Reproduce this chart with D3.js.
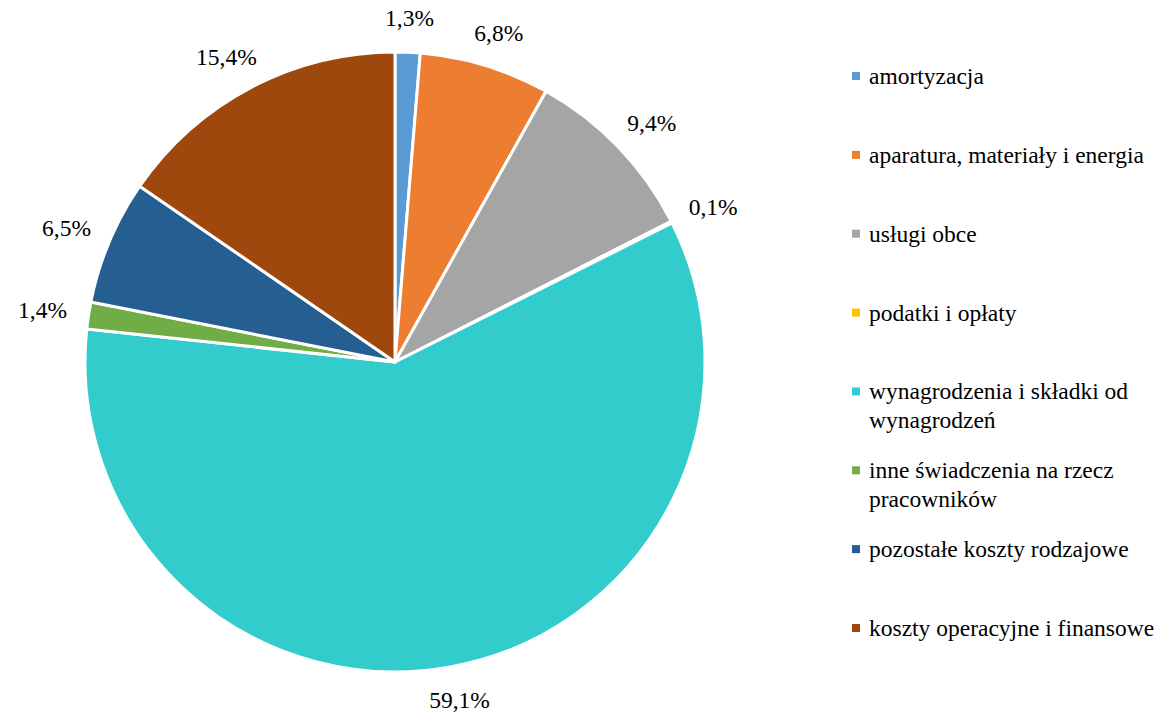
<!DOCTYPE html>
<html>
<head>
<meta charset="utf-8">
<script src="https://cdn.jsdelivr.net/npm/d3@7"></script>
<style>
  body { margin: 0; background: #fff; font-family: "Liberation Serif", serif; }
  svg text { font-family: "Liberation Serif", serif; }
</style>
</head>
<body>
<div id="chart"></div>
<script>
const categories = [
  "amortyzacja",
  "aparatura, materiały i energia",
  "usługi obce",
  "podatki i opłaty",
  "wynagrodzenia i składki od wynagrodzeń",
  "inne świadczenia na rzecz pracowników",
  "pozostałe koszty rodzajowe",
  "koszty operacyjne i finansowe"
];
const values = [1.3, 6.8, 9.4, 0.1, 59.1, 1.4, 6.5, 15.4];
const colors = ["#5B9BD5", "#ED7D31", "#A5A5A5", "#FFC000", "#33CCCC", "#70AD47", "#255E91", "#9E480E"];

const width = 1164, height = 713;
const cx = 395, cy = 362, radius = 310;
const font = "Liberation Serif, serif";

const svg = d3.select("#chart")
  .append("svg")
    .attr("width", width)
    .attr("height", height)
    .style("font-family", font);

const data = categories.map((c, i) => ({ name: c, value: values[i], color: colors[i] }));

const pie = d3.pie().sort(null).value(d => d.value);
const arc = d3.arc().innerRadius(0).outerRadius(radius);
const arcs = pie(data);

const g = svg.append("g").attr("transform", `translate(${cx},${cy})`);

g.selectAll("path")
  .data(arcs)
  .join("path")
    .attr("d", arc)
    .attr("fill", d => d.data.color)
    .attr("stroke", "#fff")
    .attr("stroke-width", 3)
    .attr("stroke-linejoin", "round");

const fmt = v => v.toFixed(1).replace(".", ",") + "%";

// labels outside the slices, pushed out by half their size
const lbl = g.selectAll("text.lbl")
  .data(arcs)
  .join("text")
    .attr("class", "lbl")
    .style("font-family", font)
    .style("font-size", "23.5px")
    .attr("text-anchor", "middle")
    .attr("dominant-baseline", "central")
    .text(d => fmt(d.data.value));

lbl.each(function(d) {
  const a = (d.startAngle + d.endAngle) / 2;
  const bb = this.getBBox();
  const rr = radius + 22;
  const x = Math.sin(a) * rr + Math.sin(a) * bb.width / 2;
  const y = -Math.cos(a) * rr - Math.cos(a) * 12;
  d3.select(this).attr("x", x).attr("y", y);
});

// legend
const ly = d3.scalePoint().domain(categories).range([76, 628]);
const legend = svg.append("g");

const item = legend.selectAll("g")
  .data(data)
  .join("g")
    .attr("transform", d => `translate(852,${ly(d.name)})`);

item.append("rect")
  .attr("x", 0)
  .attr("y", -4)
  .attr("width", 8)
  .attr("height", 8)
  .attr("fill", d => d.color);

item.append("text")
  .attr("x", 17)
  .attr("y", 0)
  .style("font-family", font)
  .style("font-size", "23.5px")
  .attr("dominant-baseline", "central")
  .each(function(d) {
    const t = d3.select(this);
    const words = d.name.split(" ");
    let line = [];
    let tspan = t.append("tspan").attr("x", 17).attr("dy", 0);
    words.forEach(w => {
      line.push(w);
      tspan.text(line.join(" "));
      if (tspan.node().getComputedTextLength() > 300 && line.length > 1) {
        line.pop();
        tspan.text(line.join(" "));
        line = [w];
        tspan = t.append("tspan").attr("x", 17).attr("dy", 29).text(w);
      }
    });
  });
</script>
</body>
</html>
